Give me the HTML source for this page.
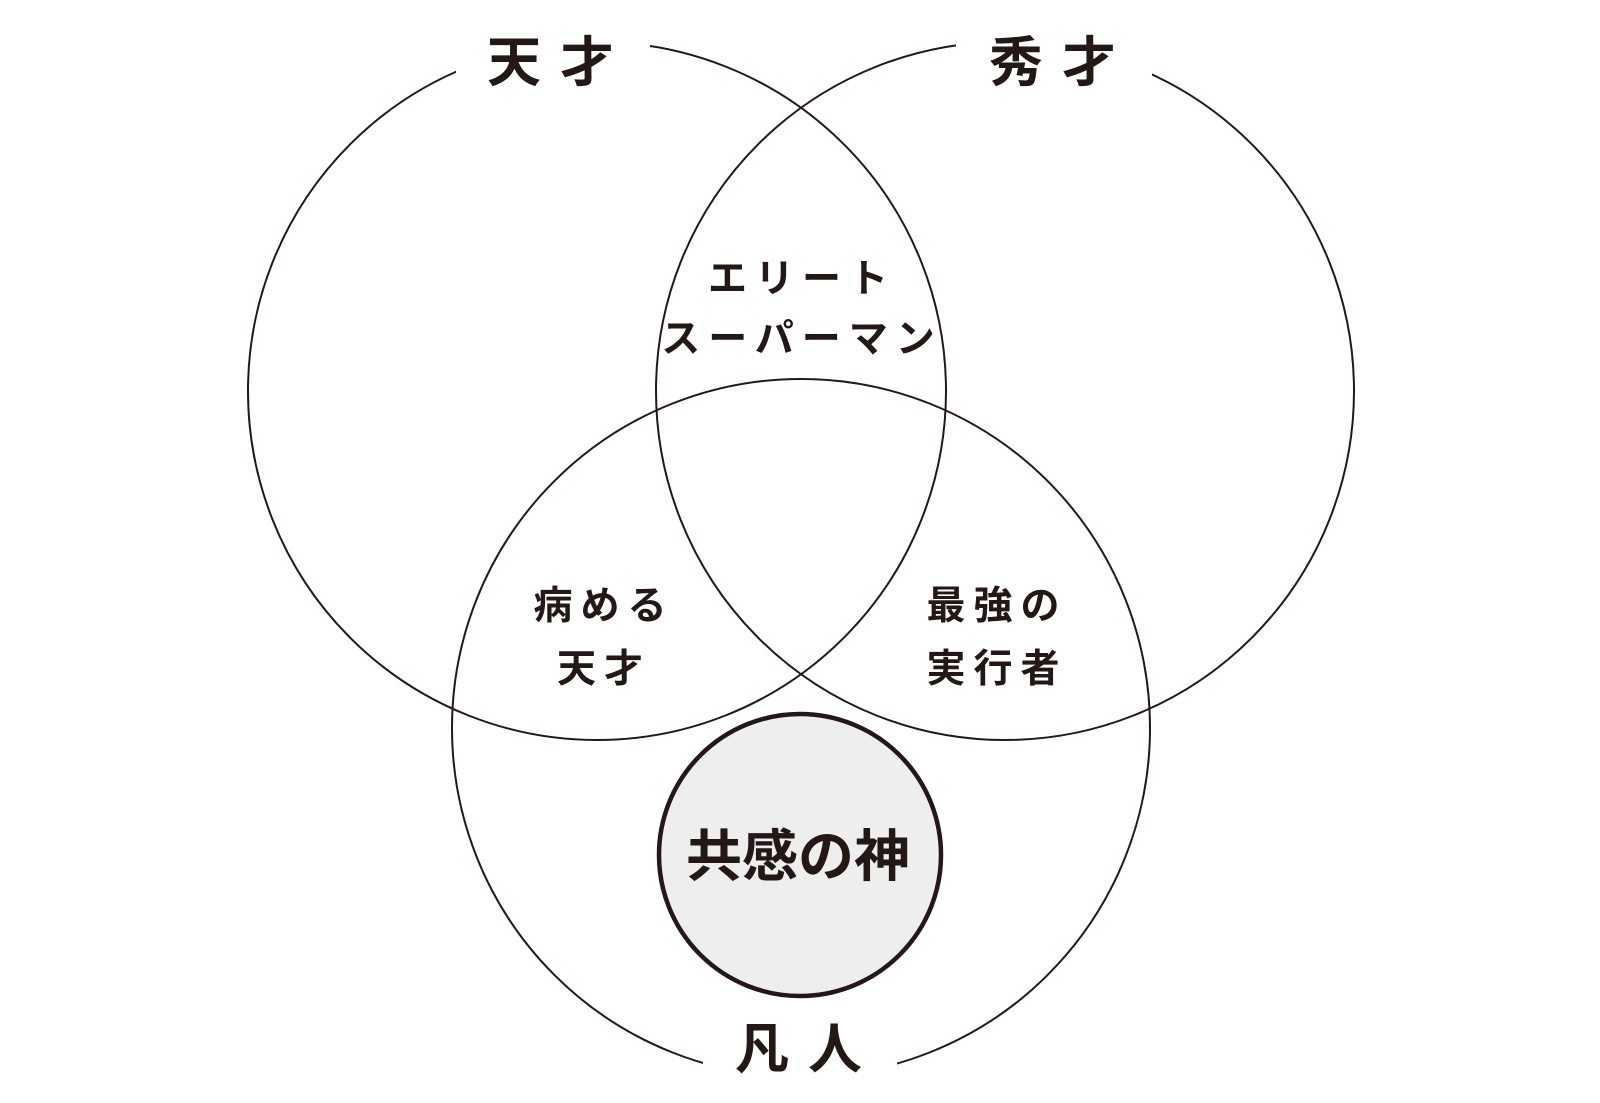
<!DOCTYPE html>
<html><head><meta charset="utf-8"><style>
html,body{margin:0;padding:0;background:#fff;}
svg{display:block}
text{font-family:"Liberation Sans","Noto Sans CJK JP",sans-serif;fill:#231815;}
</style></head><body>
<svg width="1600" height="1103" viewBox="0 0 1600 1103">
<g fill="none" stroke="#231815" stroke-width="2">
<circle cx="597" cy="391" r="349"/>
<circle cx="1005" cy="391" r="349"/>
<circle cx="801" cy="728" r="349"/>
</g>
<circle cx="800" cy="855" r="141" fill="#eeeeee" stroke="#231815" stroke-width="4.5"/>
<rect x="456" y="25" width="194" height="75" fill="#fff"/>
<rect x="956" y="25" width="196" height="75" fill="#fff"/>
<rect x="703" y="1005" width="194" height="90" fill="#fff"/>
<g font-weight="bold" font-size="54">
<text x="487" y="81" letter-spacing="19">天才</text>
<text x="989" y="81" letter-spacing="19">秀才</text>
<text x="735" y="1068" letter-spacing="19">凡人</text>
</g>
<g font-size="39" text-anchor="middle" letter-spacing="8" font-weight="bold" style="font-weight:600">
<text x="802" y="292">エリート</text>
<text x="802" y="352">スーパーマン</text>
<text x="604" y="619">病める</text>
<text x="604" y="682">天才</text>
<text x="997" y="619">最強の</text>
<text x="997" y="682">実行者</text>
</g>
<text x="798" y="876" font-size="56" font-weight="bold" text-anchor="middle">共感の神</text>
</svg>
</body></html>
